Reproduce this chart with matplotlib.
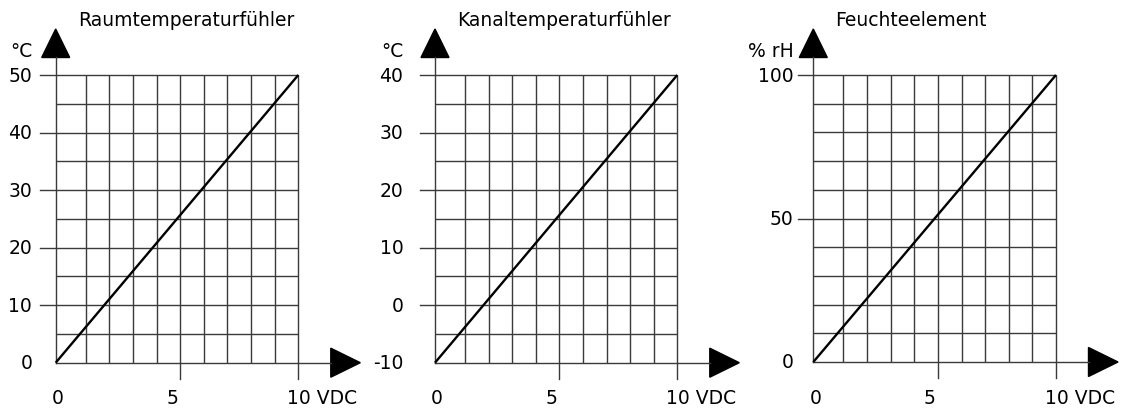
import matplotlib
matplotlib.use('Agg')
import matplotlib.pyplot as plt
import numpy as np
from matplotlib.patches import Polygon
from matplotlib.lines import Line2D
from matplotlib.transforms import IdentityTransform

vdc = [0, 10]
raum_temp = [0, 50]
kanal_temp = [-10, 40]
feuchte = [0, 100]

titles = ['Raumtemperaturfühler', 'Kanaltemperaturfühler', 'Feuchteelement']
units = ['°C', '°C', '% rH']
series = [raum_temp, kanal_temp, feuchte]
ytick_vals = [[0, 10, 20, 30, 40, 50],
              [-10, 0, 10, 20, 30, 40],
              [0, 50, 100]]
xtick_vals = [0, 5, 10]

W, H = 1128, 412
plt.rcParams['font.family'] = ['DejaVu Sans']
FS = 13.5

fig = plt.figure(figsize=(W / 100, H / 100), dpi=100)
fig.patch.set_facecolor('white')

# axes boxes in pixels (left, right, top, bottom) and label offsets
boxes = [(55.7, 298.3, 75, 362.7),
         (435.0, 677.3, 75, 362.7),
         (813.3, 1056.0, 75, 362.0)]
label_off = [23.5, 31.7, 20.0]

# vertical grid lines in the original are not quite at whole volts
xgrid = np.linspace(1.24, 10, 10)
GRID = '#3a3a3a'
IDT = IdentityTransform()

for i in range(3):
    l, r, t, b = boxes[i]
    ax = fig.add_axes([l / W, 1 - b / H, (r - l) / W, (b - t) / H])
    ax.set_axis_off()
    yv = series[i]
    ymin, ymax = yv[0], yv[-1]
    ax.set_xlim(0, 10)
    ax.set_ylim(ymin, ymax)

    # grid
    ygrid = np.linspace(ymin, ymax, 11)[1:]
    ax.hlines(ygrid, 0, 10, color=GRID, lw=1.0, clip_on=False)
    ax.vlines(xgrid, ymin, ymax, color=GRID, lw=1.0, clip_on=False)

    # axes with arrow heads (pixel geometry)
    x0, y0 = ax.transData.transform((0, ymin))
    x1, y1 = ax.transData.transform((10, ymax))
    ax.add_artist(Line2D([x0, x0], [y0, y1 + 18], color=GRID, lw=1.0,
                         transform=IDT, clip_on=False))
    ax.add_artist(Line2D([x0, x1 + 33], [y0, y0], color=GRID, lw=1.0,
                         transform=IDT, clip_on=False))
    ax.add_patch(Polygon([(x0 - 14, y1 + 17.5), (x0 + 14, y1 + 17.5),
                          (x0, y1 + 46)], closed=True, color='black',
                         transform=IDT, clip_on=False))
    ax.add_patch(Polygon([(x1 + 32.5, y0 + 14.5), (x1 + 32.5, y0 - 14.5),
                          (x1 + 62, y0)], closed=True, color='black',
                         transform=IDT, clip_on=False))

    # ticks: left ticks at labelled values (except bottom), down ticks at 5 and 10
    xt5 = xgrid[4]
    for v in ytick_vals[i][1:]:
        _, yy = ax.transData.transform((0, v))
        ax.add_artist(Line2D([x0 - 15.5, x0], [yy, yy], color=GRID, lw=1.0,
                             transform=IDT, clip_on=False))
    for xv in [xt5, 10]:
        xx, _ = ax.transData.transform((xv, ymin))
        ax.add_artist(Line2D([xx, xx], [y0, y0 - 16], color=GRID, lw=1.0,
                             transform=IDT, clip_on=False))

    # data line
    ax.plot(vdc, yv, color='black', lw=1.7, solid_capstyle='butt', clip_on=False)

    # tick labels
    for v in ytick_vals[i]:
        ax.annotate(str(v), xy=(0, v), xytext=(-label_off[i], -1),
                    textcoords='offset pixels', ha='right', va='center',
                    fontsize=FS)
    ax.annotate('0', xy=(0, ymin), xytext=(2, -36), textcoords='offset pixels',
                ha='center', va='center', fontsize=FS)
    ax.annotate('5', xy=(5, ymin), xytext=(-5, -36), textcoords='offset pixels',
                ha='center', va='center', fontsize=FS)
    ax.annotate('10 VDC', xy=(10, ymin), xytext=(-11, -36),
                textcoords='offset pixels', ha='left', va='center', fontsize=FS)

    # unit label and title
    ax.annotate(units[i], xy=(0, ymax), xytext=(-label_off[i], 18),
                textcoords='offset pixels', ha='right', va='baseline',
                fontsize=FS)
    fig.text((l + 22) / W, 1 - 26 / H, titles[i], ha='left', va='baseline',
             fontsize=FS)

plt.savefig('out.png', dpi=100, facecolor='white')
